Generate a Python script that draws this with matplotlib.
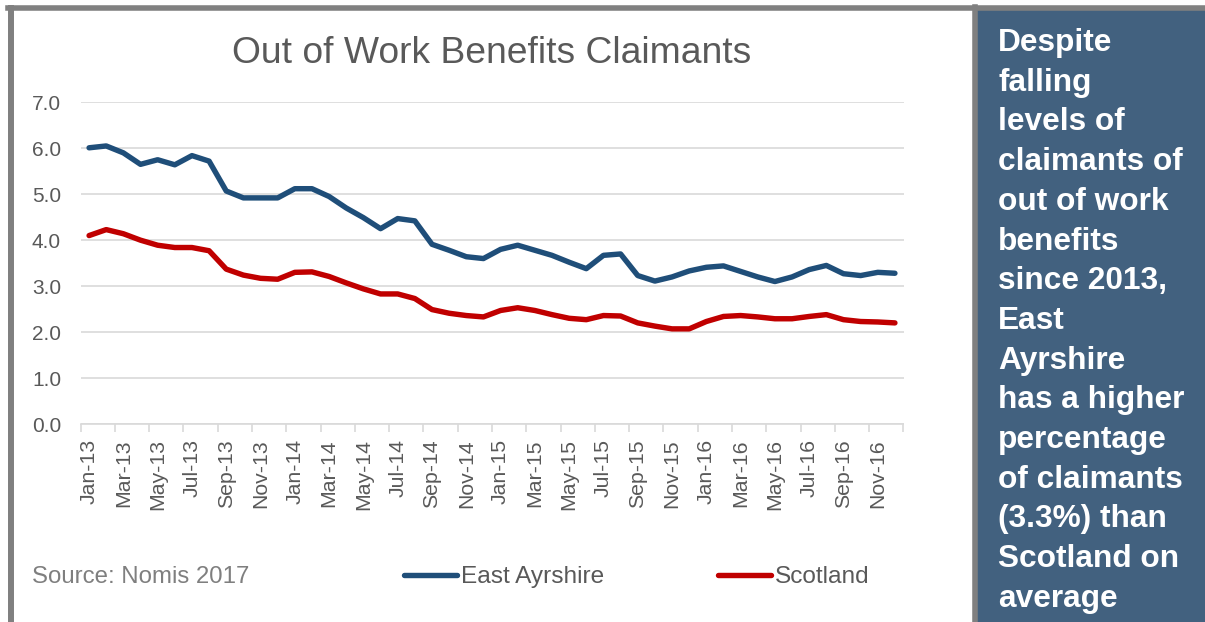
import numpy as np
import pandas as pd
import matplotlib
matplotlib.use("Agg")
import matplotlib.pyplot as plt
from matplotlib.lines import Line2D
from matplotlib.patches import Rectangle

plt.rcParams['font.family'] = ['Liberation Sans', 'DejaVu Sans']

# monthly claimant rate (%), Jan 2013 - Dec 2016
months = pd.date_range("2013-01-01", periods=48, freq="MS").strftime("%b-%y").tolist()
east_ayrshire = [6.01, 6.05, 5.90, 5.65, 5.75, 5.64, 5.84, 5.72, 5.07, 4.92,
                 4.92, 4.92, 5.12, 5.12, 4.95, 4.70, 4.49, 4.25, 4.47, 4.42,
                 3.91, 3.78, 3.64, 3.60, 3.80, 3.89, 3.78, 3.67, 3.52, 3.38,
                 3.67, 3.70, 3.23, 3.11, 3.20, 3.33, 3.41, 3.44, 3.32, 3.20,
                 3.10, 3.20, 3.36, 3.45, 3.27, 3.23, 3.30, 3.28]
scotland = [4.10, 4.23, 4.14, 4.00, 3.89, 3.84, 3.84, 3.77, 3.37, 3.24,
            3.17, 3.15, 3.30, 3.31, 3.21, 3.07, 2.94, 2.83, 2.83, 2.73,
            2.49, 2.41, 2.36, 2.33, 2.47, 2.53, 2.47, 2.38, 2.30, 2.27,
            2.36, 2.35, 2.20, 2.13, 2.07, 2.07, 2.23, 2.34, 2.36, 2.33,
            2.29, 2.29, 2.34, 2.38, 2.27, 2.23, 2.22, 2.20]

side_note = ["Despite", "falling", "levels of", "claimants of", "out of work",
             "benefits", "since 2013,", "East", "Ayrshire", "has a higher",
             "percentage", "of claimants", "(3.3%) than", "Scotland on", "average"]

W, H = 1205, 622
BLUE = "#1f4e79"
RED = "#c00000"
GRID = "#d9d9d9"
TXT = "#595959"
FRAME = "#808080"
PANEL = "#42617f"

fig = plt.figure(figsize=(W / 100, H / 100), dpi=100)


def fx(px):
    return px / W


def fy(py):
    return 1 - py / H


# frame round the chart and the note panel
fig.add_artist(Rectangle((fx(977), 0), 1 - fx(977), fy(9), transform=fig.transFigure,
                         facecolor=PANEL, edgecolor="none"))
fig.add_artist(Line2D([fx(11), fx(11)], [0, fy(8)], transform=fig.transFigure, color=FRAME, lw=4.3))
fig.add_artist(Line2D([fx(8), 1], [fy(7.5), fy(7.5)], transform=fig.transFigure, color=FRAME, lw=4.0))
fig.add_artist(Line2D([fx(974.5), fx(974.5)], [0, fy(7)], transform=fig.transFigure, color=FRAME, lw=4.0))

ax = fig.add_axes([fx(80.5), fy(424), (903.5 - 80.5) / W, (424 - 102.3) / H])
x = np.arange(len(months))
ax.plot(x, east_ayrshire, color=BLUE, lw=3.9, solid_capstyle="round", solid_joinstyle="round",
        label="East Ayrshire", zorder=3)
ax.plot(x, scotland, color=RED, lw=3.9, solid_capstyle="round", solid_joinstyle="round",
        label="Scotland", zorder=3)

ax.set_xlim(-0.5, len(months) - 0.5)
ax.set_ylim(0, 7)
ax.set_yticks(np.arange(0, 7.1, 1.0))
ax.set_yticklabels([f"{v:.1f}" for v in np.arange(0, 7.1, 1.0)])
ax.yaxis.grid(True, color=GRID, lw=1.2)
ax.set_axisbelow(True)

# ticks on category boundaries, labels on every other month
ax.set_xticks(np.arange(-0.5, len(months), 2))
ax.set_xticklabels([])
ax.set_xticks(x[::2], minor=True)
ax.set_xticklabels(months[::2], minor=True, rotation=90)
ax.tick_params(axis="x", which="major", length=6, width=1.2, color=GRID)
ax.tick_params(axis="x", which="minor", length=0, pad=11, labelsize=15.3, labelcolor=TXT)
ax.tick_params(axis="y", length=0, pad=14, labelsize=15, labelcolor=TXT)

for side in ["top", "right", "left"]:
    ax.spines[side].set_visible(False)
ax.spines["bottom"].set_color(GRID)
ax.spines["bottom"].set_linewidth(1.2)

fig.text(fx(492), fy(63), "Out of Work Benefits Claimants", ha="center", va="baseline",
         fontsize=26.8, color=TXT)
fig.text(fx(32), fy(583), "Source: Nomis 2017", ha="left", va="baseline",
         fontsize=17.3, color="#7f7f7f")

fig.legend(loc="center left", bbox_to_anchor=(fx(404), fy(577)), ncol=2, frameon=False,
           fontsize=17.6, labelcolor=TXT, handlelength=2.17, handletextpad=0.17,
           columnspacing=4.63, borderaxespad=0, borderpad=0)

for i, line in enumerate(side_note):
    fig.text(fx(998), fy(51 + i * 39.7), line, ha="left", va="baseline",
             fontsize=22.8, fontweight="bold", color="white")

fig.savefig("out.png", dpi=100)
